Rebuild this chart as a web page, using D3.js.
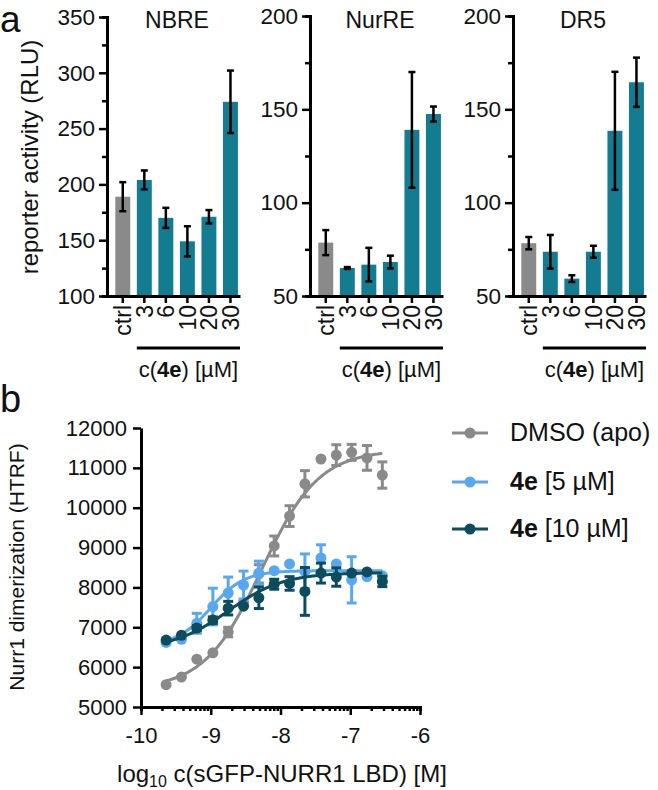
<!DOCTYPE html>
<html><head><meta charset="utf-8">
<script src="https://cdn.jsdelivr.net/npm/d3@7"></script>
<style>
body{margin:0;background:#fff}
svg{display:block}
text{font-family:"Liberation Sans",Arial,Helvetica,sans-serif;fill:#111}
</style>
</head><body>
<svg id="chart" width="658" height="790"></svg>
<script>
// ---------- Panel a data ----------
const categories = ["ctrl","3","6","10","20","30"];
const nbreValues  = [189, 204, 170, 149, 171, 274];
const nbreErrors  = [13, 8.5, 9, 13.5, 6, 28];
const nurreValues = [78.6, 65, 66.8, 68.2, 139, 147.5];
const nurreErrors = [6.7, 0.5, 9, 3.4, 31, 4];
const dr5Values   = [78.3, 73.7, 59.3, 73.7, 138.5, 164.5];
const dr5Errors   = [3.3, 9, 1.8, 3.2, 31.6, 13.2];
const nbreTicks   = [100, 150, 200, 250, 300, 350];
const nbreMinor   = [125, 175, 225, 275, 325];
const nurTicks    = [50, 100, 150, 200];
const nurMinor    = [75, 125, 175];
const panelTitles = ["NBRE", "NurRE", "DR5"];

// ---------- Panel b data ----------
const logConc    = [-9.64, -9.42, -9.20, -8.97, -8.75, -8.53, -8.31, -8.09, -7.87, -7.65, -7.42, -7.20, -6.98, -6.76, -6.54];
const dmsoValues = [5560, 5750, 6200, 6360, 6880, 7610, 8340, 9040, 9790, 10600, 11220, 11320, 11390, 11250, 10820];
const dmsoErrors = [0, 0, 0, 0, 120, 0, 230, 250, 260, 330, 0, 260, 200, 310, 330];
const e5Values   = [6620, 6700, 7100, 7520, 7860, 8060, 8360, 8420, 8590, 8400, 8740, 8590, 8190, 8270, 8290];
const e5Errors   = [0, 0, 250, 460, 400, 350, 300, 0, 0, 440, 330, 0, 580, 0, 0];
const e10Values  = [6680, 6800, 6980, 7180, 7480, 7530, 7740, 8080, 8100, 7900, 8360, 8260, 8360, 8390, 8150];
const e10Errors  = [0, 0, 60, 80, 170, 0, 270, 125, 170, 600, 250, 230, 0, 0, 130];
// 4-parameter logistic fits: [bottom, top, logEC50, hill]
const fitDmso = [5450, 11450, -8.27, 1.06];
const fitE5   = [6550, 8420, -9.0, 1.8];
const fitE10  = [6450, 8370, -8.75, 1.1];
const xTicksB = [-10, -9, -8, -7, -6];
const yTicksB = [5000, 6000, 7000, 8000, 9000, 10000, 11000, 12000];
const legendLabels = [["", "DMSO (apo)"], ["4e", " [5 µM]"], ["4e", " [10 µM]"]];

const cGray = "#8a8a8a", cTeal = "#137c90", cLight = "#58a8f0", cDark = "#0c4c5b";

const svg = d3.select("#chart");
const AX = 3, TK = 2.5;

function styleAxis(g){
  g.select(".domain").attr("stroke","#000").attr("stroke-width",AX);
  g.selectAll(".tick line").attr("stroke","#000").attr("stroke-width",TK);
}

// ---------- Panel a ----------
const panels = [
  {ax:107, vals:nbreValues, errs:nbreErrors, dom:[100,350], rng:[296,17], ticks:nbreTicks, minor:nbreMinor, title:panelTitles[0]},
  {ax:310, vals:nurreValues, errs:nurreErrors, dom:[50,200], rng:[296,16], ticks:nurTicks, minor:nurMinor, title:panelTitles[1]},
  {ax:513, vals:dr5Values, errs:dr5Errors, dom:[50,200], rng:[296,16], ticks:nurTicks, minor:nurMinor, title:panelTitles[2]}
];

panels.forEach(p=>{
  const y = d3.scaleLinear().domain(p.dom).range(p.rng);
  const x = d3.scaleBand().domain(categories).range([p.ax, p.ax+133])
    .paddingInner(0.306).paddingOuter(0.241).align(0.8);
  const base = p.rng[0];
  const g = svg.append("g");
  g.selectAll("rect.bar").data(p.vals).join("rect")
    .attr("x",(d,i)=>x(categories[i]))
    .attr("width",x.bandwidth())
    .attr("y",d=>y(d))
    .attr("height",d=>base-y(d))
    .attr("fill",(d,i)=>i===0?cGray:cTeal);
  const eg = g.selectAll("g.err").data(p.vals).join("g")
    .attr("transform",(d,i)=>`translate(${x(categories[i])+x.bandwidth()/2},0)`);
  eg.append("line").attr("y1",(d,i)=>y(d+p.errs[i])).attr("y2",(d,i)=>y(d-p.errs[i]))
    .attr("stroke","#000").attr("stroke-width",2.5);
  eg.append("line").attr("x1",-3.5).attr("x2",3.5).attr("y1",(d,i)=>y(d+p.errs[i])).attr("y2",(d,i)=>y(d+p.errs[i]))
    .attr("stroke","#000").attr("stroke-width",2.5);
  eg.append("line").attr("x1",-3.5).attr("x2",3.5).attr("y1",(d,i)=>y(d-p.errs[i])).attr("y2",(d,i)=>y(d-p.errs[i]))
    .attr("stroke","#000").attr("stroke-width",2.5);
  const ym = svg.append("g").attr("transform",`translate(${p.ax},0)`)
    .call(d3.axisLeft(y).tickValues(p.minor).tickSize(5).tickFormat(""));
  styleAxis(ym);
  const ya = svg.append("g").attr("transform",`translate(${p.ax},0)`)
    .call(d3.axisLeft(y).tickValues(p.ticks).tickSize(8).tickSizeOuter(0).tickPadding(4).tickFormat(d=>String(d)));
  styleAxis(ya);
  ya.selectAll(".tick text").attr("font-size",22.5).attr("fill","#111");
  const xa = svg.append("g").attr("transform",`translate(0,${base})`)
    .call(d3.axisBottom(x).tickSize(7).tickSizeOuter(0));
  styleAxis(xa);
  xa.selectAll(".tick text")
    .attr("transform","rotate(-90)")
    .attr("text-anchor","end")
    .attr("x",-9).attr("y",0).attr("dy","0.36em")
    .attr("font-size",23).attr("fill","#111");
  svg.append("text").attr("x",p.ax+70).attr("y",28).attr("text-anchor","middle")
    .attr("font-size",23).text(p.title);
  const x0 = x(categories[1]), x1 = p.ax+133;
  svg.append("line").attr("x1",x0).attr("x2",x1).attr("y1",348).attr("y2",348)
    .attr("stroke","#000").attr("stroke-width",3);
  const t = svg.append("text").attr("x",(x0+x1)/2).attr("y",377).attr("text-anchor","middle").attr("font-size",22);
  t.append("tspan").text("c(");
  t.append("tspan").attr("font-weight","bold").text("4e");
  t.append("tspan").text(") [µM]");
});

svg.append("text").attr("transform","translate(38,157) rotate(-90)").attr("text-anchor","middle")
  .attr("font-size",24).text("reporter activity (RLU)");
svg.append("text").attr("x",0).attr("y",32).attr("font-size",37).text("a");
svg.append("text").attr("x",0).attr("y",412).attr("font-size",38).text("b");

// ---------- Panel b ----------
const xB = d3.scaleLinear().domain([-10,-6]).range([141,420]);
const yB = d3.scaleLinear().domain([5000,12000]).range([707,428]);

const minorX = [];
for (let dec=-10; dec<-6; dec++) for (let k=2;k<=9;k++) minorX.push(dec+Math.log10(k));

const xm = svg.append("g").attr("transform","translate(0,707)")
  .call(d3.axisBottom(xB).tickValues(minorX).tickSize(4).tickFormat(""));
styleAxis(xm);
const xaB = svg.append("g").attr("transform","translate(0,707)")
  .call(d3.axisBottom(xB).tickValues(xTicksB).tickSize(8).tickSizeOuter(0).tickPadding(12).tickFormat(d=>String(d)));
styleAxis(xaB);
xaB.selectAll(".tick text").attr("font-size",22).attr("fill","#111");
const yaB = svg.append("g").attr("transform","translate(141,0)")
  .call(d3.axisLeft(yB).tickValues(yTicksB).tickSize(8).tickSizeOuter(0).tickPadding(6).tickFormat(d=>String(d)));
styleAxis(yaB);
yaB.selectAll(".tick text").attr("font-size",22).attr("fill","#111");

function logistic(p){ return x => p[0] + (p[1]-p[0])/(1+Math.pow(10,(p[2]-x)*p[3])); }
const line = d3.line().x(d=>xB(d[0])).y(d=>yB(d[1]));

const seriesB = [
  {vals:dmsoValues, errs:dmsoErrors, fit:fitDmso, color:cGray},
  {vals:e5Values, errs:e5Errors, fit:fitE5, color:cLight},
  {vals:e10Values, errs:e10Errors, fit:fitE10, color:cDark}
];

seriesB.forEach(s=>{
  const f = logistic(s.fit);
  const xs = d3.range(logConc[0], logConc[logConc.length-1]+0.001, 0.02);
  svg.append("path").datum(xs.map(x=>[x,f(x)])).attr("d",line)
    .attr("fill","none").attr("stroke",s.color).attr("stroke-width",3);
  const g = svg.append("g");
  const pts = g.selectAll("g").data(s.vals).join("g")
    .attr("transform",(d,i)=>`translate(${xB(logConc[i])},0)`);
  pts.each(function(d,i){
    const e = s.errs[i];
    const sel = d3.select(this);
    if (e>0){
      sel.append("line").attr("y1",yB(d+e)).attr("y2",yB(d-e)).attr("stroke",s.color).attr("stroke-width",3);
      [d+e,d-e].forEach(v=>sel.append("line").attr("x1",-5).attr("x2",5).attr("y1",yB(v)).attr("y2",yB(v))
        .attr("stroke",s.color).attr("stroke-width",3));
    }
    sel.append("circle").attr("cy",yB(d)).attr("r",5.5).attr("fill",s.color);
  });
});

svg.append("text").attr("transform","translate(24,567) rotate(-90)").attr("text-anchor","middle")
  .attr("font-size",21).text("Nurr1 dimerization (HTRF)");
const xl = svg.append("text").attr("x",282).attr("y",782).attr("text-anchor","middle").attr("font-size",24);
xl.append("tspan").text("log");
xl.append("tspan").attr("font-size",16).attr("dy",5).text("10");
xl.append("tspan").attr("dy",-5).text(" c(sGFP-NURR1 LBD) [M]");

const legY = [433, 482, 529];
seriesB.forEach((s,i)=>{
  const g = svg.append("g").attr("transform",`translate(0,${legY[i]})`);
  g.append("line").attr("x1",452).attr("x2",488).attr("stroke",s.color).attr("stroke-width",3);
  g.append("circle").attr("cx",470).attr("r",5.5).attr("fill",s.color);
  const t = g.append("text").attr("x",510).attr("y",8).attr("font-size",25);
  if (legendLabels[i][0]) t.append("tspan").attr("font-weight","bold").text(legendLabels[i][0]);
  t.append("tspan").text(legendLabels[i][1]);
});
</script>
</body></html>
